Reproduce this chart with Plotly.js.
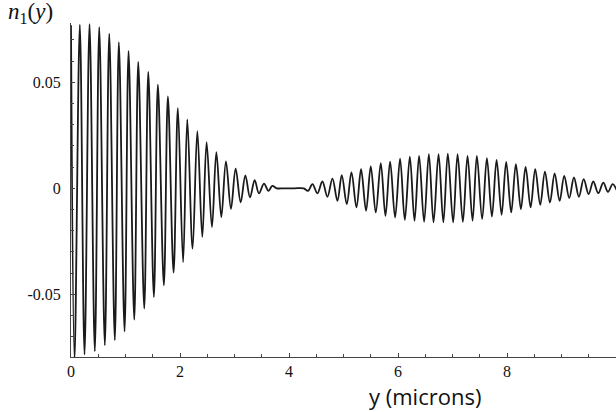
<!DOCTYPE html>
<html>
<head>
<meta charset="utf-8">
<script src="https://cdn.plot.ly/plotly-3.0.1.min.js"></script>
<style>html,body{margin:0;padding:0;background:#fff;}#chart{width:616px;height:412px;}</style>
</head>
<body>
<div id="chart"></div>
<script>
// positions (microns) of successive extrema / points
const positionMicrons = [
  0.000, 0.064, 0.162, 0.248, 0.340, 0.437, 0.518, 0.621, 0.702, 0.804,
  0.878, 0.983, 1.056, 1.161, 1.234, 1.344, 1.418, 1.521, 1.594, 1.704,
  1.778, 1.882, 1.961, 2.057, 2.134, 2.231, 2.318, 2.409, 2.488, 2.586,
  2.667, 2.758, 2.843, 2.935, 3.021, 3.113, 3.199, 3.284, 3.370, 3.449,
  3.541, 3.622, 3.695, 3.774, 3.900, 4.000, 4.100, 4.270,
  4.349, 4.430, 4.521, 4.613, 4.705, 4.797, 4.889, 4.968, 5.060, 5.146,
  5.238, 5.322, 5.414, 5.500, 5.592, 5.684, 5.770, 5.855, 5.947, 6.038,
  6.125, 6.217, 6.303, 6.387, 6.479, 6.566, 6.652, 6.744, 6.832, 6.914,
  7.012, 7.093, 7.190, 7.276, 7.368, 7.447, 7.544, 7.631, 7.723, 7.809,
  7.901, 7.985, 8.077, 8.163, 8.255, 8.341, 8.433, 8.518, 8.610, 8.696,
  8.788, 8.874, 8.966, 9.050, 9.142, 9.228, 9.320, 9.407, 9.498, 9.583,
  9.675, 9.767, 9.853, 9.939, 10.018
];
// n1(y) values at those points
const n1Values = [
  0.0769, -0.0810, 0.0772, -0.0784, 0.0774, -0.0769, 0.0761, -0.0741, 0.0730, -0.0717,
  0.0690, -0.0675, 0.0648, -0.0620, 0.0596, -0.0568, 0.0549, -0.0513, 0.0489, -0.0458,
  0.0434, -0.0398, 0.0378, -0.0348, 0.0325, -0.0285, 0.0270, -0.0230, 0.0218, -0.0183,
  0.0171, -0.0136, 0.0127, -0.0097, 0.0093, -0.0066, 0.0061, -0.0043, 0.0038, -0.0024,
  0.0022, -0.0012, 0.0011, 0.0000, 0.0000, 0.0000, 0.0000, 0.0000,
  -0.0012, 0.0020, -0.0024, 0.0032, -0.0040, 0.0046, -0.0059, 0.0062, -0.0075, 0.0075,
  -0.0090, 0.0090, -0.0106, 0.0103, -0.0114, 0.0119, -0.0130, 0.0126, -0.0138, 0.0140,
  -0.0149, 0.0149, -0.0153, 0.0153, -0.0158, 0.0161, -0.0161, 0.0161, -0.0161, 0.0163,
  -0.0161, 0.0161, -0.0158, 0.0153, -0.0153, 0.0153, -0.0145, 0.0142, -0.0134, 0.0134,
  -0.0125, 0.0125, -0.0114, 0.0114, -0.0098, 0.0101, -0.0090, 0.0090, -0.0078, 0.0079,
  -0.0067, 0.0070, -0.0059, 0.0059, -0.0046, 0.0051, -0.0040, 0.0043, -0.0027, 0.0032,
  -0.0023, 0.0027, -0.0017, 0.0020, -0.0012
];
const xTickVals = [0, 2, 4, 6, 8];
const xTickText = ["0", "2", "4", "6", "8"];
const yTickVals = [-0.05, 0, 0.05];
const yTickText = ["-0.05", "0", "0.05"];

const serif = '"Liberation Serif", "Times New Roman", serif';

const trace = {
  x: positionMicrons,
  y: n1Values,
  type: 'scatter',
  mode: 'lines',
  line: {color: '#1a1a1a', width: 1.8, shape: 'spline', smoothing: 1},
  hoverinfo: 'skip'
};

const layout = {
  width: 616, height: 412,
  margin: {l: 71, r: 0, t: 23, b: 55},
  paper_bgcolor: '#ffffff', plot_bgcolor: '#ffffff',
  showlegend: false,
  font: {family: serif, size: 16, color: '#111'},
  xaxis: {
    range: [0, 10], showgrid: false, zeroline: false,
    showline: true, linecolor: '#444', linewidth: 1,
    tickmode: 'array', tickvals: xTickVals, ticktext: xTickText,
    ticks: 'inside', ticklen: 4, tickcolor: '#444',
    minor: {dtick: 0.5, tick0: 0, ticks: 'inside', ticklen: 3, tickcolor: '#444', showgrid: false},
    tickfont: {family: serif, size: 16, color: '#111'}
  },
  yaxis: {
    range: [-0.0796, 0.078], showgrid: false, zeroline: false,
    showline: true, linecolor: '#444', linewidth: 1,
    tickmode: 'array', tickvals: yTickVals, ticktext: yTickText,
    ticks: 'inside', ticklen: 4, tickcolor: '#444',
    ticklabelstandoff: 6,
    minor: {dtick: 0.01, tick0: 0, ticks: 'inside', ticklen: 3, tickcolor: '#444', showgrid: false},
    tickfont: {family: serif, size: 16, color: '#111'}
  },
  annotations: [
    {xref: 'paper', yref: 'paper', x: 0.65, y: -0.118, xanchor: 'center', yanchor: 'middle',
     text: 'y (microns)', showarrow: false,
     font: {family: 'Open Sans', size: 22, color: '#111'}},
    {xref: 'paper', yref: 'paper', x: -0.12, y: 1.03, xanchor: 'left', yanchor: 'middle',
     text: '<i>n</i><sub>1</sub>(<i>y</i>)', showarrow: false,
     font: {family: serif, size: 23, color: '#111'}}
  ]
};

Plotly.newPlot('chart', [trace], layout, {displayModeBar: false, staticPlot: true});
</script>
</body>
</html>
